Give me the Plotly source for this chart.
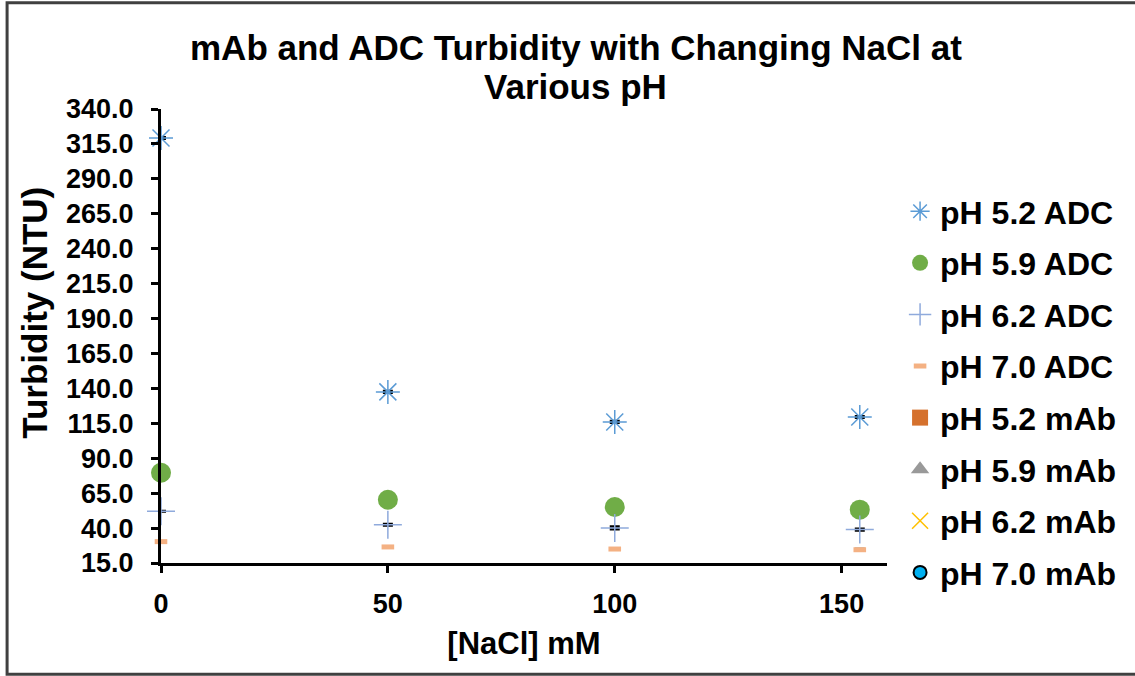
import plotly.graph_objects as go

nacl = [0, 50, 100, 154]
ph52_adc = [319.2, 137.5, 116.0, 119.5]
ph59_adc = [79.6, 60.3, 55.1, 53.2]
ph62_adc = [52.0, 42.4, 40.1, 38.9]
ph70_adc = [30.3, 26.5, 25.0, 24.5]
# mAb series are not visible in the plotted range
ph52_mab = [None, None, None, None]
ph59_mab = [None, None, None, None]
ph62_mab = [None, None, None, None]
ph70_mab = [None, None, None, None]

err52 = [0.4, 0.4, 0.4, 0.4]
err62 = [None, 0.4, 0.8, 0.4]
err70 = [None, 0.4, 0.4, 0.4]

title_lines = ["mAb and ADC Turbidity with Changing NaCl at", "Various pH"]
x_title = "[NaCl] mM"
y_title = "Turbidity (NTU)"

FONT = "Liberation Sans, Arial, sans-serif"

fig = go.Figure()

def eb(arr):
    return dict(type="data", array=arr, visible=True, color="black", thickness=3, width=5)

fig.add_trace(go.Scatter(x=nacl, y=ph52_adc, mode="markers", name="pH 5.2 ADC", legendgroup="a",
    error_y=eb(err52), cliponaxis=False,
    marker=dict(symbol="asterisk-open", size=20, line=dict(color="#5B9BD5", width=1.5), color="#5B9BD5")))
fig.add_trace(go.Scatter(x=nacl, y=ph59_adc, mode="markers", name="pH 5.9 ADC", legendgroup="b",
    cliponaxis=False,
    marker=dict(symbol="circle", size=20, color="#70AD47")))
fig.add_trace(go.Scatter(x=nacl, y=ph62_adc, mode="markers", name="pH 6.2 ADC", legendgroup="c",
    error_y=eb(err62), cliponaxis=False,
    marker=dict(symbol="cross-thin-open", size=20, line=dict(color="#8FAADC", width=1.5), color="#8FAADC")))
fig.add_trace(go.Scatter(x=nacl, y=ph70_adc, mode="markers", name="pH 7.0 ADC", legendgroup="d",
    error_y=eb(err70), cliponaxis=False,
    marker=dict(symbol="line-ew-open", size=9, line=dict(color="#F4B183", width=5), color="#F4B183")))
fig.add_trace(go.Scatter(x=nacl, y=ph52_mab, mode="markers", name="pH 5.2 mAb", legendgroup="e",
    marker=dict(symbol="square", size=18, color="#D5712D")))
fig.add_trace(go.Scatter(x=nacl, y=ph59_mab, mode="markers", name="pH 5.9 mAb", legendgroup="f",
    marker=dict(symbol="triangle-up", size=18, color="#999999")))
fig.add_trace(go.Scatter(x=nacl, y=ph62_mab, mode="markers", name="pH 6.2 mAb", legendgroup="g",
    marker=dict(symbol="x-thin-open", size=18, line=dict(color="#FFC000", width=1.5), color="#FFC000")))
fig.add_trace(go.Scatter(x=nacl, y=ph70_mab, mode="markers", name="pH 7.0 mAb", legendgroup="h",
    marker=dict(symbol="circle", size=13, color="#00B0F0", line=dict(color="black", width=2))))

axis_common = dict(
    showline=True, linecolor="black", linewidth=3, mirror=False,
    ticks="outside", ticklen=7, tickwidth=3, tickcolor="black",
    showgrid=False, zeroline=False,
    tickfont=dict(family=FONT, size=27, color="black", weight="bold"),
)

fig.update_xaxes(range=[0, 160], tickvals=[0, 50, 100, 150], ticklabelstandoff=8,
    title=dict(text=x_title, font=dict(family=FONT, size=31, color="black", weight="bold"), standoff=14),
    **axis_common)
fig.update_yaxes(range=[15, 340], tick0=15, dtick=25, tickformat=".1f", ticklabelstandoff=12,
    **axis_common)

fig.add_annotation(text=y_title, xref="paper", yref="paper", x=-0.1736, y=0.551,
    xanchor="center", yanchor="middle", textangle=-90, showarrow=False,
    font=dict(family=FONT, size=35, color="black", weight="bold"))

fig.add_shape(type="rect", xref="paper", yref="paper",
    x0=-0.212, x1=1.45, y0=-0.245, y1=1.234,
    line=dict(color="#404040", width=3), layer="below")

for txt, yy in zip(title_lines, [1.135, 1.049]):
    fig.add_annotation(text=txt, xref="paper", yref="paper", x=0.5716, y=yy,
        xanchor="center", yanchor="middle", showarrow=False,
        font=dict(family=FONT, size=35, color="black", weight="bold"))

fig.update_layout(
    width=1135, height=676,
    margin=dict(l=161, r=248, t=109, b=113),
    paper_bgcolor="white", plot_bgcolor="white",
    legend=dict(x=1.018, xanchor="left", y=0.835, yanchor="top",
        font=dict(family=FONT, size=32, color="black", weight="bold"),
        tracegroupgap=7, itemsizing="trace", bgcolor="rgba(0,0,0,0)"),
    showlegend=True,
)

fig.write_html("out.html")
